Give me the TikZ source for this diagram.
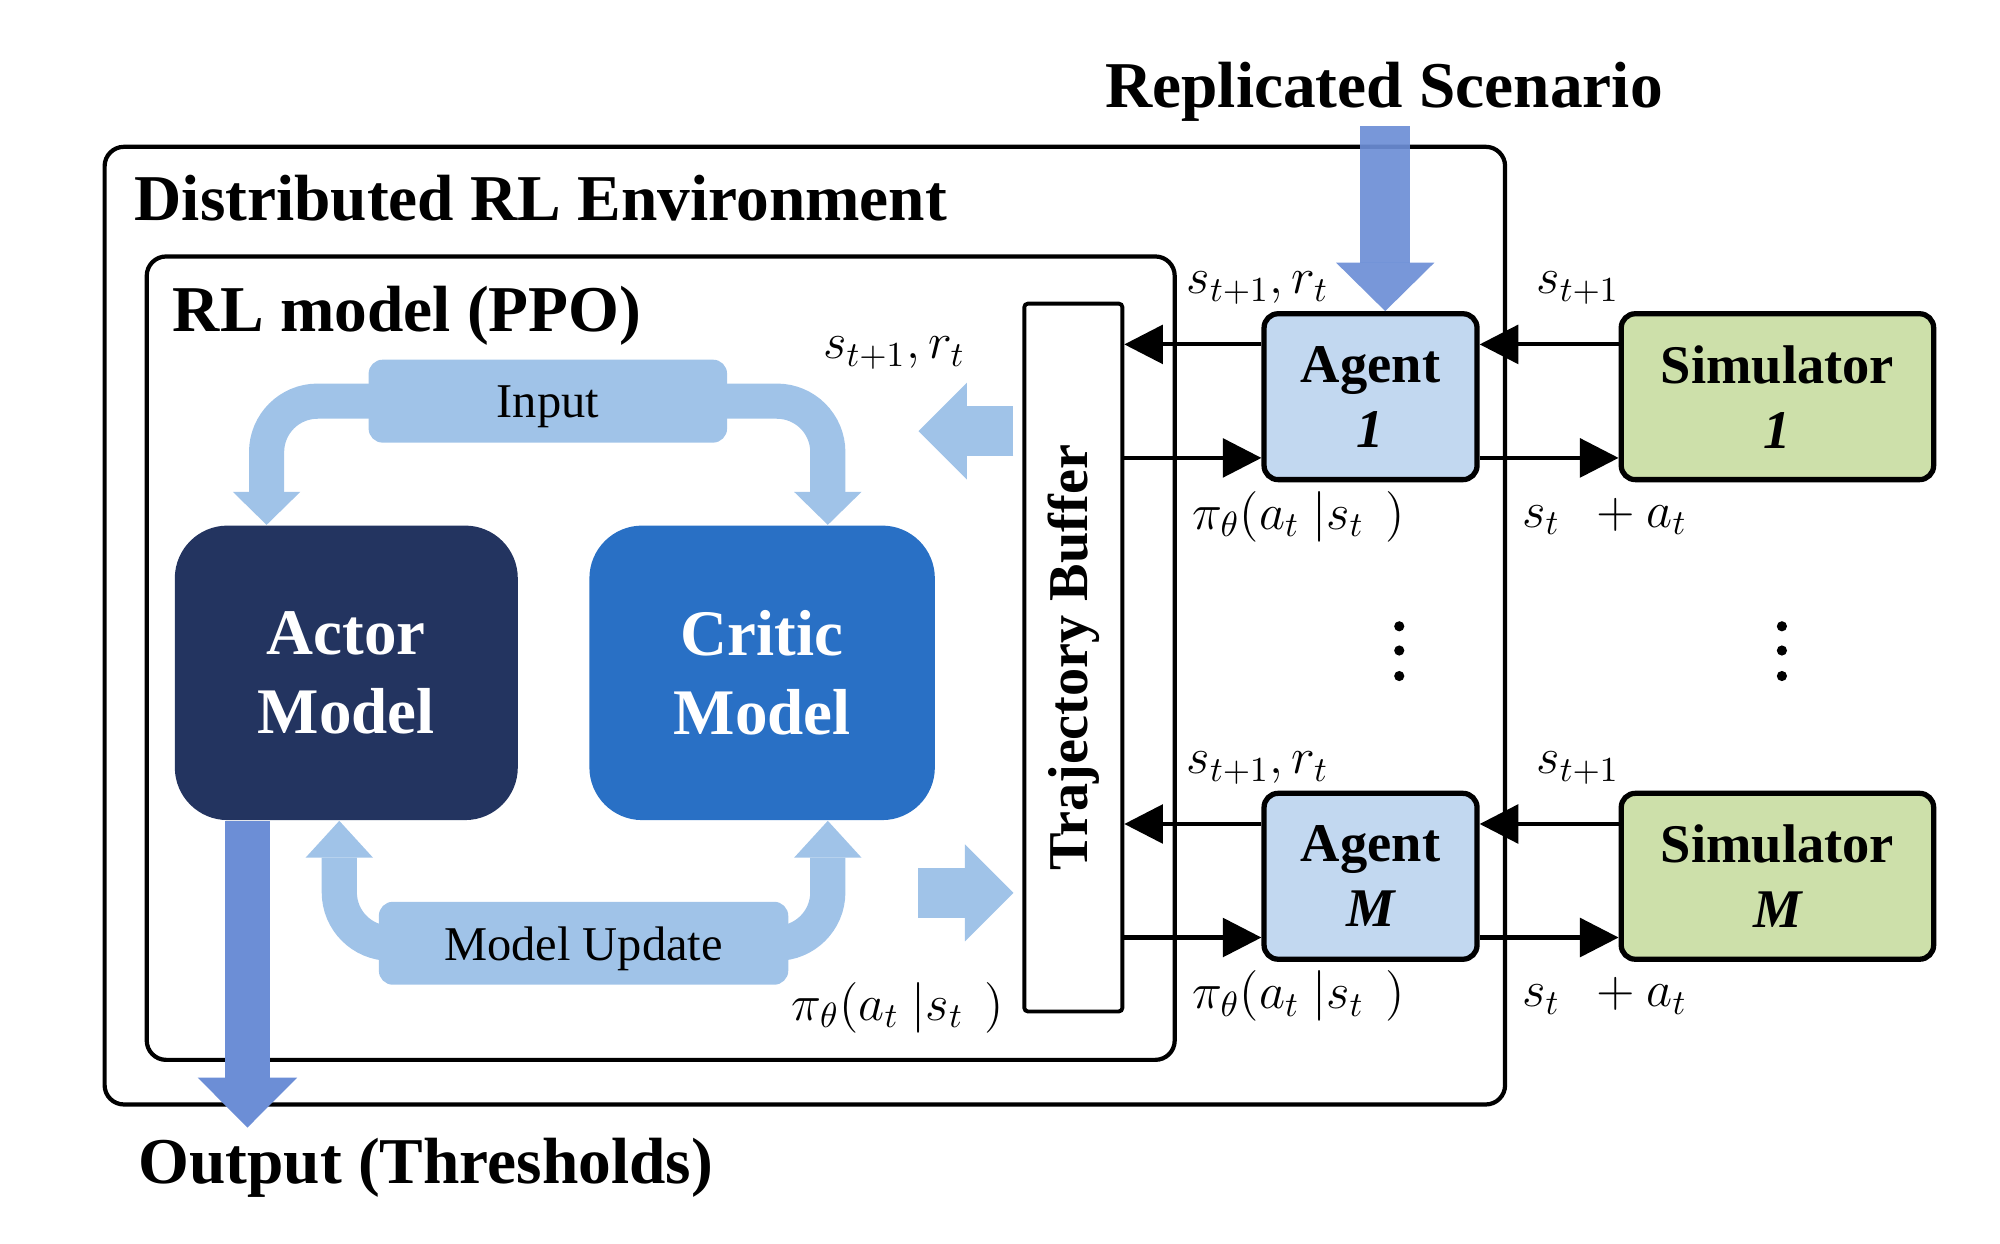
\documentclass[tikz,border=0pt]{standalone}
\usepackage{fontspec}
\setmainfont{Liberation Serif}
\usetikzlibrary{arrows.meta,calc}
\definecolor{lband}{RGB}{160,195,232}
\definecolor{actorc}{RGB}{35,52,96}
\definecolor{criticc}{RGB}{41,112,197}
\definecolor{darrowc}{RGB}{108,142,214}
\definecolor{agentc}{RGB}{194,216,240}
\definecolor{simc}{RGB}{205,224,170}
\begin{document}
\begin{tikzpicture}[x=0.012755cm,y=-0.012755cm,
  container/.style={draw, line width=1.2pt, rounded corners=5.5pt, inner sep=0pt},
  titletext/.style={anchor=base west, inner sep=0pt, font=\bfseries\fontsize{18.6pt}{21pt}\selectfont},
  modelbox/.style={text=white, rounded corners=15pt, inner sep=0pt, minimum height=83.8pt, align=center, font=\bfseries\fontsize{18.5pt}{22.5pt}\selectfont},
  pill/.style={fill=lband, rounded corners=4pt, inner sep=0pt, minimum height=23.6pt, text depth=0pt, font=\fontsize{13.8pt}{16pt}\selectfont},
  agentbox/.style={draw, line width=1.5pt, rounded corners=4pt, inner sep=0pt, minimum height=47.2pt, align=center, font=\bfseries\fontsize{15.5pt}{18.5pt}\selectfont},
  conn/.style={line width=1.15pt, -{Triangle[length=11pt,width=11pt]}},
  band/.style={draw=lband, line width=10pt, rounded corners=14.5pt},
  mlabel/.style={inner sep=0pt, font=\fontsize{14.5pt}{17pt}\selectfont},
]
\useasboundingbox (0,0) rectangle (1568,975);

% containers
\node[container, minimum width=398.5pt, minimum height=272.5pt] (env) at (631,490.5) {};
\node[container, minimum width=292.5pt, minimum height=228.6pt] (rl) at (518,516) {};
\node[titletext] (envlabel) at (105,172.5) {Distributed RL Environment};
\node[titletext] (rllabel) at (135,260) {RL model (PPO)};
\node[titletext] (replabel) at (866,84) {Replicated Scenario};
\node[titletext] (outlabel) at (108,928) {Output (Thresholds)};

% models
\node[modelbox, fill=actorc, minimum width=97.6pt] (actor) at (271.5,527.5) {Actor\\Model};
\node[modelbox, fill=criticc, minimum width=98.3pt] (critic) at (597.5,527.5) {Critic\\Model};

% pills
\node[pill, minimum width=102pt] (inputpill) at (429.5,314.5) {Input};
\node[pill, minimum width=116.5pt] (updatepill) at (457.5,739.5) {Model Update};

% bands
\draw[band, -{Triangle[length=9.4pt,width=19.2pt,line width=0pt]}] ($(inputpill.west)+(10,0)$) -| ($(actor.north)+(-62.5,0)$);
\draw[band, -{Triangle[length=9.4pt,width=19.2pt,line width=0pt]}] ($(inputpill.east)+(-10,0)$) -| ($(critic.north)+(51.5,0)$);
\draw[band, -{Triangle[length=10.5pt,width=19.2pt,line width=0pt]}] ($(updatepill.west)+(10,0)$) -| ($(actor.south)+(-5.5,0)$);
\draw[band, -{Triangle[length=10.5pt,width=19.2pt,line width=0pt]}] ($(updatepill.east)+(-10,0)$) -| ($(critic.south)+(51.5,0)$);

% buffer
\node[draw, line width=1.1pt, rounded corners=1pt, inner sep=0pt, minimum width=27.9pt, minimum height=201.4pt] (buffer) at (841.5,515.5) {};
\node[rotate=90, inner sep=0pt, font=\bfseries\fontsize{16pt}{18pt}\selectfont] (buflabel) at (buffer.center) {Trajectory Buffer};

% light arrows
\coordinate (lefttip) at (720,338);
\coordinate (righttail) at (720,700);
\draw[draw=lband, line width=14.2pt, -{Triangle[length=13.8pt,width=27.6pt,line width=0pt]}] ($(buffer.west)+(-7,-177.5)$) -- (lefttip);
\draw[draw=lband, line width=14.2pt, -{Triangle[length=13.8pt,width=27.6pt,line width=0pt]}] (righttail) -- ($(buffer.west)+(-7,184.5)$);

% agents and simulators
\node[agentbox, fill=agentc, minimum width=60.6pt] (agent1) at (1074.5,311) {Agent\\\itshape 1};
\node[agentbox, fill=simc, minimum width=88.9pt] (sim1) at (1393.5,311) {Simulator\\\itshape 1};
\node[agentbox, fill=agentc, minimum width=60.6pt] (agentM) at (1074.5,687) {Agent\\\itshape M};
\node[agentbox, fill=simc, minimum width=88.9pt] (simM) at (1393.5,687) {Simulator\\\itshape M};

% connectors row 1
\draw[conn] ($(agent1.west)+(0,-41)$) coordinate (a1o) -- (a1o -| buffer.east);
\coordinate (a1i) at ($(agent1.west)+(0,48)$);
\draw[conn] (a1i -| buffer.east) -- (a1i);
\draw[conn] ($(sim1.west)+(0,-41)$) coordinate (s1o) -- (s1o -| agent1.east);
\coordinate (s1i) at ($(sim1.west)+(0,48)$);
\draw[conn] (s1i -| agent1.east) -- (s1i);
% connectors row M
\draw[conn] ($(agentM.west)+(0,-41)$) coordinate (aMo) -- (aMo -| buffer.east);
\coordinate (aMi) at ($(agentM.west)+(0,48)$);
\draw[conn] (aMi -| buffer.east) -- (aMi);
\draw[conn] ($(simM.west)+(0,-41)$) coordinate (sMo) -- (sMo -| agentM.east);
\coordinate (sMi) at ($(simM.west)+(0,48)$);
\draw[conn] (sMi -| agentM.east) -- (sMi);

% labels
\node[mlabel] (lrl1) at (701,277) {$s_{t+1}, r_t$};
\node[mlabel] (lrl2) at (704,790) {$\pi_\theta(a_t\ |s_t\ \,)$};
\node[mlabel] (la1) at (986,226) {$s_{t+1}, r_t$};
\node[mlabel] (ls1) at (1237,226) {$s_{t+1}$};
\node[mlabel] (lp1) at (1018,405) {$\pi_\theta(a_t\ |s_t\ \,)$};
\node[mlabel] (lsa1) at (1258,405) {$s_t\ \ + a_t$};
\node[mlabel] (laM) at (986,602) {$s_{t+1}, r_t$};
\node[mlabel] (lsM) at (1237,602) {$s_{t+1}$};
\node[mlabel] (lpM) at (1018,781) {$\pi_\theta(a_t\ |s_t\ \,)$};
\node[mlabel] (lsaM) at (1258,781) {$s_t\ \ + a_t$};

% dots
\foreach \yy in {491,510,530} {
  \fill (1097,\yy) circle (1.45pt);
  \fill (1397,\yy) circle (1.45pt);
}

% big arrows
\coordinate (outtip) at (194,884);
\draw[draw=darrowc, line width=13pt, -{Triangle[length=14.2pt,width=28.3pt,line width=0pt]}] ($(actor.south)+(-77.5,0)$) -- (outtip);
\coordinate (reptop) at (1086,99);
\draw[draw=darrowc, opacity=0.92, line width=14.2pt, -{Triangle[length=13.8pt,width=28pt,line width=0pt]}] (reptop) -- ($(agent1.north)+(11.5,0)$);
\end{tikzpicture}
\end{document}
